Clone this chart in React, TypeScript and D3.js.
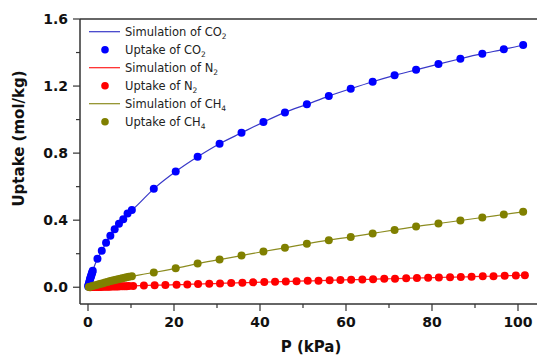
import * as d3 from 'd3';

// pressure (kPa) / uptake (mol/kg)
const co2P = [0.05, 0.1, 0.15, 0.2, 0.3, 0.4, 0.5, 0.6, 0.7, 0.8, 0.9, 1.0, 1.1, 2.2, 3.2, 4.2, 5.2, 6.2, 7.2, 8.2, 9.2, 10.2, 15.3, 20.4, 25.5, 30.6, 35.7, 40.8, 45.8, 50.9, 56.0, 61.1, 66.2, 71.3, 76.3, 81.5, 86.6, 91.7, 96.7, 101.2];
const co2U = [0.005, 0.01, 0.015, 0.02, 0.03, 0.04, 0.05, 0.058, 0.066, 0.074, 0.082, 0.09, 0.098, 0.17, 0.217, 0.265, 0.307, 0.346, 0.379, 0.406, 0.44, 0.46, 0.587, 0.69, 0.778, 0.856, 0.921, 0.985, 1.043, 1.091, 1.14, 1.184, 1.226, 1.264, 1.297, 1.331, 1.363, 1.393, 1.419, 1.445];

const n2P = [0.5, 1, 1.5, 2, 2.5, 3, 3.5, 4, 4.5, 5, 5.5, 6, 6.5, 7, 7.5, 8, 8.5, 9, 9.5, 10.5, 13, 15.5, 18, 20.6, 23.1, 25.6, 28.2, 30.7, 33.3, 35.9, 38.4, 41, 43.5, 46, 48.5, 51.1, 53.6, 56.2, 58.7, 61.2, 63.8, 66.3, 68.9, 71.4, 74, 76.5, 79.1, 81.6, 84.2, 86.7, 89.2, 91.8, 94.3, 96.9, 99.5, 101.6];
const n2U = [0.0003, 0.0007, 0.001, 0.0014, 0.0017, 0.002, 0.0024, 0.0028, 0.0031, 0.0035, 0.0038, 0.0042, 0.0045, 0.0049, 0.0052, 0.0056, 0.006, 0.0063, 0.0067, 0.008, 0.01, 0.012, 0.013, 0.015, 0.017, 0.019, 0.021, 0.023, 0.025, 0.027, 0.029, 0.031, 0.032, 0.034, 0.036, 0.038, 0.039, 0.041, 0.043, 0.045, 0.046, 0.048, 0.05, 0.051, 0.053, 0.055, 0.056, 0.058, 0.06, 0.061, 0.063, 0.065, 0.066, 0.068, 0.07, 0.072];

const ch4P = [0.2, 0.5, 1, 1.5, 2, 2.5, 3, 3.5, 4, 4.5, 5, 5.5, 6, 6.5, 7, 7.5, 8, 8.5, 9, 9.5, 10.2, 15.3, 20.4, 25.5, 30.6, 35.7, 40.8, 45.8, 50.9, 56.0, 61.1, 66.2, 71.3, 76.3, 81.5, 86.6, 91.7, 96.7, 101.2];
const ch4U = [0.0015, 0.0035, 0.007, 0.0105, 0.014, 0.0175, 0.021, 0.0245, 0.028, 0.031, 0.035, 0.038, 0.041, 0.044, 0.048, 0.051, 0.054, 0.057, 0.06, 0.063, 0.066, 0.088, 0.113, 0.141, 0.165, 0.189, 0.213, 0.235, 0.259, 0.281, 0.3, 0.321, 0.342, 0.362, 0.38, 0.398, 0.416, 0.434, 0.45];

const xTicks = [0, 20, 40, 60, 80, 100];
const xMinor = [10, 30, 50, 70, 90];
const yTicks = [0, 0.4, 0.8, 1.2, 1.6];
const yMinor = [0.2, 0.6, 1.0, 1.4];

const series = [
  { gas: 'CO', sub: '2', P: co2P, U: co2U, line: '#3838c8', dot: '#0000ff' },
  { gas: 'N', sub: '2', P: n2P, U: n2U, line: '#ff2020', dot: '#ff0000' },
  { gas: 'CH', sub: '4', P: ch4P, U: ch4U, line: '#8c8c20', dot: '#808000' },
];

const W = 537;
const H = 356;
const boldFont = '"DejaVu Sans", Verdana, sans-serif';
const legendFont = '"DejaVu Sans", Verdana, sans-serif';

export default function App() {
  const x = d3.scaleLinear().domain([-1.86, 106]).range([80, 80 + 107.86 * 4.3]);
  const y = d3.scaleLinear().domain([-0.1, 1.6]).range([304, 19]);
  const axisColor = '#333';

  const line = d3
    .line<[number, number]>()
    .x((d) => x(d[0]))
    .y((d) => y(d[1]))
    .curve(d3.curveMonotoneX);

  return (
    <svg width={W} height={H} style={{ position: 'absolute', left: 0, top: 0, background: '#fff' }}>
      {/* simulation lines */}
      {series.map((s) => (
        <path
          key={'l' + s.gas}
          d={line(s.P.map((p, i) => [p, s.U[i]] as [number, number])) || ''}
          fill="none"
          stroke={s.line}
          strokeWidth={1.2}
        />
      ))}
      {/* uptake points */}
      {series.map((s) => (
        <g key={'d' + s.gas}>
          {s.P.map((p, i) => (
            <circle key={i} cx={x(p)} cy={y(s.U[i])} r={4} fill={s.dot} />
          ))}
        </g>
      ))}

      {/* frame */}
      <line x1={80} x2={W} y1={19} y2={19} stroke={axisColor} strokeWidth={1.5} />
      <line x1={80} x2={80} y1={19} y2={304} stroke={axisColor} strokeWidth={1.5} />
      <line x1={80} x2={W} y1={304} y2={304} stroke={axisColor} strokeWidth={1.5} />

      <g fontFamily={boldFont} fontWeight="bold" fill="#111">
        {/* y axis */}
        {yTicks.map((t) => (
          <g key={'yt' + t}>
            <line x1={73} x2={80} y1={y(t)} y2={y(t)} stroke={axisColor} strokeWidth={1.2} />
            <text x={68} y={y(t) + 5} textAnchor="end" fontSize={14}>
              {t.toFixed(1)}
            </text>
          </g>
        ))}
        {yMinor.map((t) => (
          <line key={'ym' + t} x1={76} x2={80} y1={y(t)} y2={y(t)} stroke={axisColor} strokeWidth={1.2} />
        ))}

        {/* x axis */}
        {xTicks.map((t) => (
          <g key={'xt' + t}>
            <line x1={x(t)} x2={x(t)} y1={304} y2={311} stroke={axisColor} strokeWidth={1.2} />
            <text x={x(t)} y={327} textAnchor="middle" fontSize={14}>
              {t}
            </text>
          </g>
        ))}
        {xMinor.map((t) => (
          <line key={'xm' + t} x1={x(t)} x2={x(t)} y1={304} y2={308} stroke={axisColor} strokeWidth={1.2} />
        ))}

        {/* axis titles */}
        <text x={311} y={352} textAnchor="middle" fontSize={15}>
          P (kPa)
        </text>
        <text transform="translate(24,138.5) rotate(-90)" textAnchor="middle" fontSize={15}>
          Uptake (mol/kg)
        </text>
      </g>

      {/* legend */}
      <g fontFamily={legendFont} fill="#222">
        {series.map((s, i) => {
          const ly = 31.7 + i * 36;
          return (
            <g key={'lg' + s.gas}>
              <line x1={89} x2={120} y1={ly} y2={ly} stroke={s.line} strokeWidth={1.2} />
              <text x={125} y={ly + 4} fontSize={11.5}>
                Simulation of {s.gas}
                <tspan fontSize={7.5} dy={3}>{s.sub}</tspan>
              </text>
              <circle cx={105} cy={ly + 18} r={3.8} fill={s.dot} />
              <text x={125} y={ly + 22} fontSize={11.5}>
                Uptake of {s.gas}
                <tspan fontSize={7.5} dy={3}>{s.sub}</tspan>
              </text>
            </g>
          );
        })}
      </g>
    </svg>
  );
}
